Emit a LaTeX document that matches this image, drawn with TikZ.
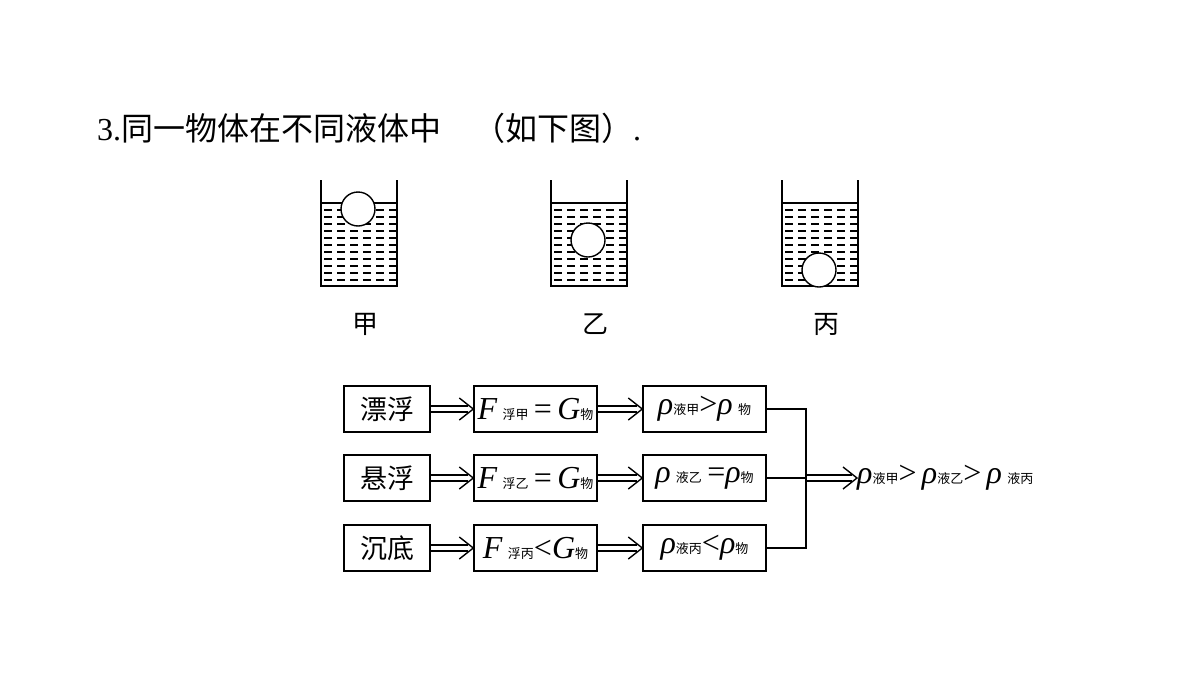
\documentclass[tikz,border=0pt]{standalone}
\usepackage{fontspec}
\setmainfont{Liberation Serif}
\newfontfamily\cjk{Noto Sans CJK SC}
\begin{document}
\begin{tikzpicture}[x=1pt,y=-1pt,
  bx/.style={draw,line width=1.4pt,minimum height=46pt,inner sep=0pt},
  ln/.style={line width=1.4pt},
  wall/.style={line width=1.6pt},
  ball/.style={draw,line width=1.4pt,fill=white}]
\useasboundingbox (0,0) rectangle (1200,675);
\newcommand\dblarrow[2]{%
  \path (#1) coordinate (da) (#2) coordinate (db);
  \draw[line width=1.3pt] ([yshift=-3pt]da) -- ([yshift=-3pt,xshift=-5pt]db);
  \draw[line width=1.3pt] ([yshift=3pt]da) -- ([yshift=3pt,xshift=-5pt]db);
  \draw[line width=1.4pt] ([xshift=-14pt,yshift=-11pt]db) -- (db) -- ([xshift=-14pt,yshift=11pt]db);}
\node[anchor=base west,font=\fontsize{32}{32}\selectfont,inner sep=0pt] (title) at (97,140) {3.{\cjk 同一物体在不同液体中\quad （如下图）}.};
% beakers
\foreach \L/\bx/\by/\lab/\nm in {321/358/209/甲/a, 551/588/240/乙/b, 782/819/270/丙/c}{
  \begin{scope}
  \clip (\L,203) rectangle (\L+76,286);
  \foreach \yy in {210,217,...,283}{
    \draw[line width=1.3pt,dash pattern=on 8pt off 5pt] (\L+3,\yy) -- (\L+76,\yy);}
  \end{scope}
  \draw[wall] (\L,180) -- (\L,286) -- (\L+76,286) -- (\L+76,180);
  \draw[line width=1.2pt] (\L,203) -- (\L+76,203);
  \draw[ball] (\bx,\by) circle (17);
  \node[font=\cjk\fontsize{26}{26}\selectfont] (l\nm) at (\L+44,324) {\lab};
}
% boxes
\newcommand\sm[1]{{\cjk\fontsize{13}{13}\selectfont #1}}
\tikzset{big/.style={font=\fontsize{32}{32}\selectfont}, cj/.style={font=\cjk\fontsize{27}{27}\selectfont}}
\node[bx,minimum width=86pt,cj] (s1) at (387,409) {漂浮};
\node[bx,minimum width=86pt,cj] (s2) at (387,478) {悬浮};
\node[bx,minimum width=86pt,cj] (s3) at (387,548) {沉底};
\node[bx,minimum width=123pt,big] (f1) at (535.5,409) {\textit{F}\,\sm{浮甲}\,=\,\textit{G}\sm{物}};
\node[bx,minimum width=123pt,big] (f2) at (535.5,478) {\textit{F}\,\sm{浮乙}\,=\,\textit{G}\sm{物}};
\node[bx,minimum width=123pt,big] (f3) at (535.5,548) {\textit{F}\,\sm{浮丙}<\textit{G}\sm{物}};
\node[bx,minimum width=123pt,big] (r1) at (704.5,409) {\textit{ρ}\sm{液甲}>\textit{ρ}\,\sm{物}};
\node[bx,minimum width=123pt,big] (r2) at (704.5,478) {\textit{ρ}\,\sm{液乙}\,=\textit{ρ}\sm{物}};
\node[bx,minimum width=123pt,big] (r3) at (704.5,548) {\textit{ρ}\sm{液丙}<\textit{ρ}\sm{物}};
\foreach \i in {1,2,3}{
  \dblarrow{s\i.east}{f\i.west}
  \dblarrow{f\i.east}{r\i.west}
}
\coordinate (j1) at (806,409);
\coordinate (j3) at (806,548);
\coordinate (j2) at (806,478);
\draw[ln] (r1.east) -- (j1) -- (j3) -- (r3.east);
\draw[ln] (r2.east) -- (j2);
\node[anchor=west,big,inner sep=0pt] (res) at (857,478) {\textit{ρ}\sm{液甲}>\,\textit{ρ}\sm{液乙}>\,\textit{ρ}\,\sm{液丙}};
\dblarrow{j2}{res.west}
\end{tikzpicture}
\end{document}
